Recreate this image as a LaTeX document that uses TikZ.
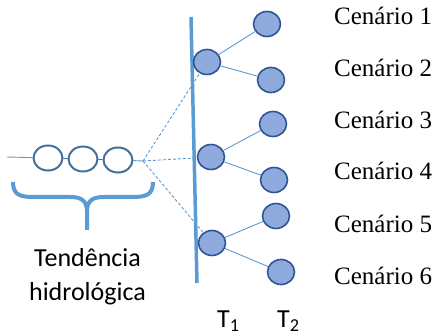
\documentclass[tikz,border=0pt]{standalone}
\usepackage{fontspec}
\setmainfont{Liberation Serif}
\newfontfamily\calib{Carlito}
\usetikzlibrary{shapes.geometric}
\definecolor{lblue}{HTML}{5B9BD5}
\definecolor{dblue}{HTML}{41719C}
\definecolor{cfill}{HTML}{8FAADC}
\definecolor{cedge}{HTML}{2F5597}
\begin{document}
\begin{tikzpicture}[x=1pt,y=-1pt,
  chainc/.style={ellipse,draw=dblue,line width=2pt,fill=white,minimum width=29pt,minimum height=25pt,inner sep=0pt},
  tnode/.style={ellipse,draw=cedge,line width=1.6pt,fill=cfill,minimum width=27pt,minimum height=25pt,inner sep=0pt},
  link/.style={draw=lblue,line width=0.9pt},
  dlink/.style={draw=lblue,line width=0.9pt,dashed,dash pattern=on 3pt off 2pt},
  scen/.style={font=\fontsize{25}{30}\selectfont,anchor=base west,inner sep=0pt},
  sans/.style={font=\calib\fontsize{26}{34}\selectfont,inner sep=0pt}]
\useasboundingbox (0,0) rectangle (442,336);
% chain
\coordinate (st) at (7,157);
\coordinate (j) at (143,161);
\node[chainc] (c1) at (48,158) {};
\node[chainc] (c2) at (83,159) {};
\node[chainc] (c3) at (118,160) {};
\draw[link] (st) -- (c1);
\draw[link,draw=dblue] (c1) -- (c2);
\draw[link,draw=dblue] (c2) -- (c3);
\draw[link] (c3) -- (j);
% brace
\draw[draw=lblue,line width=4pt]
  (13,182) .. controls (13,195) and (20,197) .. (34,197) -- (70,197)
  .. controls (82,197) and (87,201) .. (87,212) -- (87,230);
\draw[draw=lblue,line width=4pt]
  (153,182) .. controls (153,195) and (146,197) .. (132,197) -- (104,197)
  .. controls (92,197) and (87,201) .. (87,212);
\node[sans,align=center,anchor=base] (lab) at (87.5,301) {Tendência\\hidrológica};
% vertical line
\coordinate (v1) at (191,17);
\coordinate (v2) at (197,283);
\draw[draw=lblue,line width=3.5pt] (v1) -- (v2);
% T1 nodes
\node[tnode] (a1) at (207,62) {};
\node[tnode] (a2) at (211,157) {};
\node[tnode] (a3) at (212,243) {};
% T2 nodes
\node[tnode] (b1) at (267,24) {};
\node[tnode] (b2) at (271,80) {};
\node[tnode] (b3) at (273,124) {};
\node[tnode] (b4) at (274,180) {};
\node[tnode] (b5) at (276,216) {};
\node[tnode] (b6) at (281,272) {};
\draw[link] (a1) -- (b1);
\draw[link] (a1) -- (b2);
\draw[link] (a2) -- (b3);
\draw[link] (a2) -- (b4);
\draw[link] (a3) -- (b5);
\draw[link] (a3) -- (b6);
\draw[dlink] (j) -- (a1);
\draw[dlink] (j) -- (a2);
\draw[dlink] (j) -- (a3);
% scenario labels
\node[scen] (s1) at (334,25) {Cenário 1};
\node[scen] (s2) at (334,77) {Cenário 2};
\node[scen] (s3) at (334,129) {Cenário 3};
\node[scen] (s4) at (334,180) {Cenário 4};
\node[scen] (s5) at (334,233) {Cenário 5};
\node[scen] (s6) at (334,285) {Cenário 6};
% time labels
\node[sans,anchor=base west] (t1) at (217,328) {T\textsubscript{1}};
\node[sans,anchor=base west] (t2) at (277,328) {T\textsubscript{2}};
\end{tikzpicture}
\end{document}
